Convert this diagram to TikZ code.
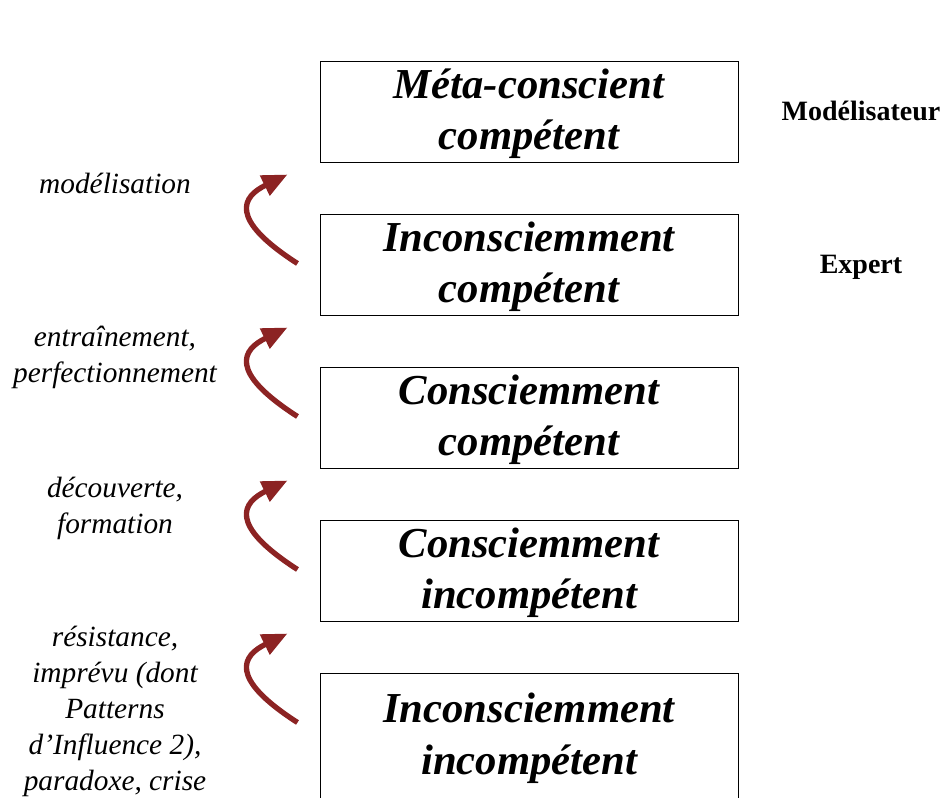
\documentclass[tikz,border=0pt]{standalone}
\usepackage{fontspec}
\setmainfont{Liberation Serif}
\usepackage{xcolor}
\usetikzlibrary{arrows.meta,positioning}
\definecolor{arrowred}{RGB}{140,35,35}

\begin{document}
\begin{tikzpicture}[
    x=0.75pt, y=-0.75pt,
    node distance=38.25pt,
    level/.style={rectangle, draw, line width=0.75pt, minimum width=313.5pt, inner sep=0pt, align=center, font=\fontsize{32}{38}\selectfont\bfseries\itshape, text height=66pt, text depth=9.75pt},
    process/.style={align=center, anchor=base, font=\fontsize{22}{27}\selectfont\itshape},
    role/.style={anchor=base, font=\fontsize{21}{25}\selectfont\bfseries},
    flow/.style={-{Triangle[length=19pt,width=16pt]}, line width=4pt, draw=arrowred}
]
    \useasboundingbox (0,0) rectangle (947,797);

    % the five levels
    \node[level, anchor=north] (meta) at (529,60.5) {Méta-conscient\\compétent};
    \node[level, below=of meta] (expert) {Inconsciemment\\compétent};
    \node[level, below=of expert] (conscomp) {Consciemment\\compétent};
    \node[level, below=of conscomp] (consinc) {Consciemment\\incompétent};
    \node[level, below=of consinc, font=\fontsize{32}{38.5}\selectfont\bfseries\itshape, text height=75.75pt, text depth=33pt] (inconsinc) {Inconsciemment\\incompétent};

    % roles
    \node[role] (modeler) at (861,120) {Modélisateur};
    \node[role] (expertrole) at (861,273) {Expert};

    % what makes one climb a level (base = last line)
    \node[process] (modeling) at (115,193) {modélisation};
    \node[process] (training) at (115,382) {entraînement,\\perfectionnement};
    \node[process] (discovery) at (115,533) {découverte,\\formation};
    \node[process] (resistance) at (115,790) {résistance,\\imprévu (dont\\Patterns\\d’Influence 2),\\paradoxe, crise};

    % curved arrows
    \coordinate (up1s) at ([xshift=-16.5pt,yshift=-37.5pt]expert.north west);
    \coordinate (up1e) at ([xshift=-24pt,yshift=29.25pt]expert.north west);
    \coordinate (up2s) at ([xshift=-16.5pt,yshift=-37.5pt]conscomp.north west);
    \coordinate (up2e) at ([xshift=-24pt,yshift=29.25pt]conscomp.north west);
    \coordinate (up3s) at ([xshift=-16.5pt,yshift=-37.5pt]consinc.north west);
    \coordinate (up3e) at ([xshift=-24pt,yshift=29.25pt]consinc.north west);
    \coordinate (up4s) at ([xshift=-16.5pt,yshift=-37.5pt]inconsinc.north west);
    \coordinate (up4e) at ([xshift=-24pt,yshift=29.25pt]inconsinc.north west);
    \draw[flow] (up1s) .. controls +(-70,-45) and +(-45,22) .. (up1e);
    \draw[flow] (up2s) .. controls +(-70,-45) and +(-45,22) .. (up2e);
    \draw[flow] (up3s) .. controls +(-70,-45) and +(-45,22) .. (up3e);
    \draw[flow] (up4s) .. controls +(-70,-45) and +(-45,22) .. (up4e);
\end{tikzpicture}
\end{document}
